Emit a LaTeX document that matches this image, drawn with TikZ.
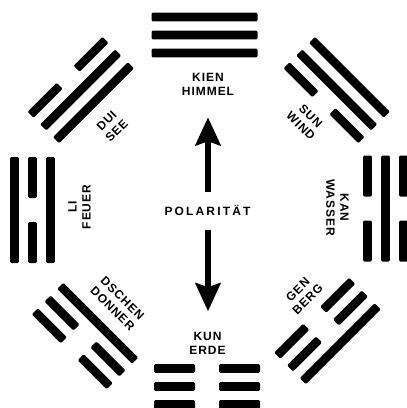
\documentclass[tikz,border=0pt]{standalone}
\usepackage{fontspec}
\setmainfont{Liberation Sans}
\newfontfamily\trifont{Liberation Sans}[LetterSpace=8]
\newfontfamily\polfont{Liberation Sans}[LetterSpace=18]
\usetikzlibrary{arrows.meta}

% one yao line at local offset #1: 1 = solid (yang), 0 = broken (yin)
\newcommand\yaoline[2]{%
  \ifnum#2=1
    \fill[rounded corners=1.2pt] (-53,#1-4.3) rectangle (53,#1+4.3);
  \else
    \fill[rounded corners=1.2pt] (-53,#1-4.3) rectangle (-12,#1+4.3);
    \fill[rounded corners=1.2pt] (12,#1-4.3) rectangle (53,#1+4.3);
  \fi}
% trigram at (#1,#2), turned by #3; lines #4 (inner), #5, #6 (outer)
\newcommand\trigram[6]{%
  \begin{scope}[shift={(#1,#2)},rotate=#3]
    \yaoline{18}{#4}\yaoline{0}{#5}\yaoline{-18}{#6}
  \end{scope}}

\begin{document}
\begin{tikzpicture}[x=1pt,y=-1pt,
  trilabel/.style={font=\trifont\bfseries\fontsize{12}{14}\selectfont, align=center, inner sep=0pt},
  bigarrow/.style={line width=6pt, -{Stealth[length=28pt,width=25pt,inset=4pt]}}]
  \useasboundingbox (0,0) rectangle (407,408);

  % eight trigrams round the octagon
  \trigram{204.5}{35}{0}{1}{1}{1}       % Kien
  \trigram{336.7}{90}{-45}{0}{1}{1}     % Sun
  \trigram{385.5}{208.5}{-90}{0}{1}{0}  % Kan
  \trigram{327.5}{331}{-135}{0}{0}{1}   % Gen
  \trigram{207}{386.5}{180}{0}{0}{0}    % Kun
  \trigram{85}{336}{135}{1}{0}{0}       % Dschen
  \trigram{32.5}{210}{90}{1}{0}{1}      % Li
  \trigram{80.8}{90}{45}{1}{1}{0}       % Dui

  % names
  \node[trilabel] (kien) at (208,84) {KIEN\\HIMMEL};
  \node[trilabel] (kun) at (207.5,343.5) {KUN\\ERDE};
  \node[trilabel, font=\polfont\bfseries\fontsize{12}{14}\selectfont] (pol) at (207.5,210.5) {POLARITÄT};
  \node[trilabel, rotate=90] (li) at (79.5,207) {LI\\FEUER};
  \node[trilabel, rotate=-90] (kan) at (337.5,207.5) {KAN\\WASSER};
  \node[trilabel, rotate=45] (dui) at (111.7,125.8) {DUI\\SEE};
  \node[trilabel, rotate=-45] (sun) at (305.8,120.8) {SUN\\WIND};
  \node[trilabel, rotate=-45] (dschen) at (117.5,303.5) {DSCHEN\\DONNER};
  \node[trilabel, rotate=45] (gen) at (302.7,294.5) {GEN\\BERG};

  % polarity arrows
  \draw[bigarrow, shorten <=13pt, shorten >=22pt] (pol.north -| kien) -- (kien.south);
  \draw[bigarrow, shorten <=14pt, shorten >=21pt] (pol.south -| kien) -- (kien |- kun.north);
\end{tikzpicture}
\end{document}
